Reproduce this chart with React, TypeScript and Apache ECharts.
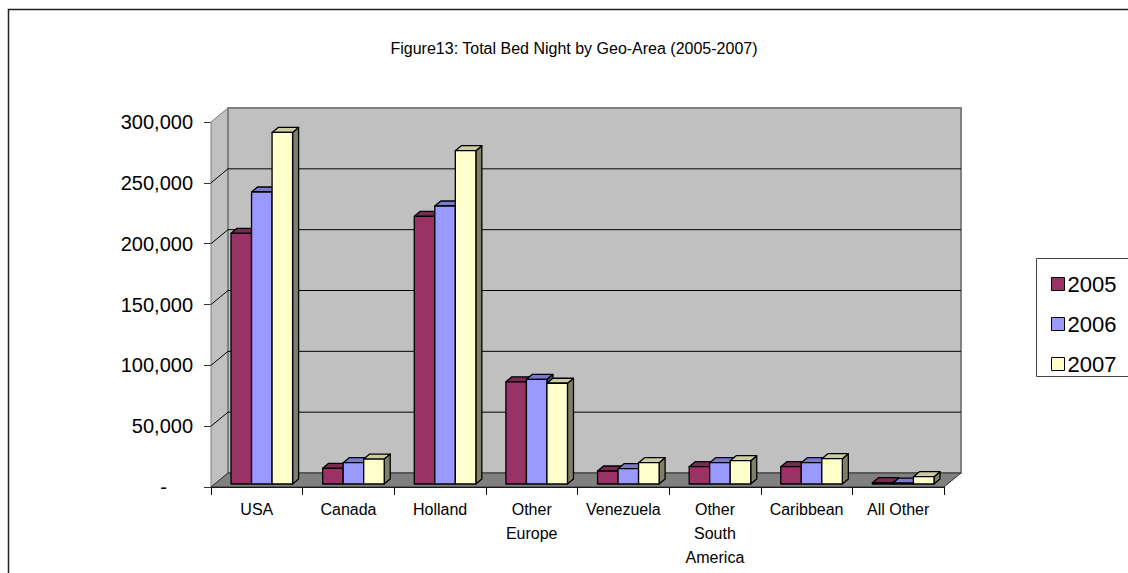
import React, { useEffect, useRef } from "react";
import * as echarts from "echarts";

const categories = ["USA", "Canada", "Holland", "Other\nEurope", "Venezuela", "Other\nSouth\nAmerica", "Caribbean", "All Other"];
const years = ["2005", "2006", "2007"];
const values2005 = [206000, 12900, 220000, 84000, 10700, 14200, 14200, 1100];
const values2006 = [240000, 17500, 228500, 86000, 12600, 17500, 17500, 800];
const values2007 = [289000, 20500, 274000, 82800, 17500, 19200, 20800, 6000];
const yTicks = [0, 50000, 100000, 150000, 200000, 250000, 300000];
const titleText = "Figure13: Total Bed Night by Geo-Area (2005-2007)";
const colors = ["#993366", "#9999FF", "#FFFFCC"];

const FONT = "'Liberation Sans', Arial, sans-serif";
const DX = 17, DY = -14; // wall depth
const BX = 5, BY = -3; // bars front plane offset
const DDX = 6, DDY = -5; // bar depth
const BAR_FRAC = 0.224;

function shade(hex: string, f: number) {
  const n = parseInt(hex.slice(1), 16);
  const r = Math.round(((n >> 16) & 255) * f);
  const g = Math.round(((n >> 8) & 255) * f);
  const b = Math.round((n & 255) * f);
  return `rgb(${r},${g},${b})`;
}

export default function App() {
  const ref = useRef<HTMLDivElement>(null);
  useEffect(() => {
    const chart = echarts.init(ref.current!, null, { renderer: "svg" });
    const seriesValues = [values2005, values2006, values2007];
    const yMax = yTicks[yTicks.length - 1];

    const wallsRender = (params: any, api: any) => {
      const cs = params.coordSys;
      const L = cs.x, R = cs.x + cs.width, T = cs.y, B = cs.y + cs.height;
      const children: any[] = [];
      children.push({
        type: "polygon",
        shape: { points: [[L, B], [L, T], [L + DX, T + DY], [L + DX, B + DY]] },
        style: { fill: "#c0c0c0", stroke: "#808080", lineWidth: 1 },
      });
      children.push({
        type: "rect",
        shape: { x: L + DX, y: T + DY, width: R - L, height: B - T },
        style: { fill: "#c0c0c0", stroke: "#808080", lineWidth: 2 },
      });
      yTicks.forEach((t) => {
        if (t === 0 || t === yMax) return;
        const y = api.coord([0, t])[1];
        children.push({
          type: "line",
          shape: { x1: L + DX, y1: y + DY, x2: R + DX, y2: y + DY },
          style: { stroke: "#000", lineWidth: 1 },
        });
        children.push({
          type: "line",
          shape: { x1: L, y1: y, x2: L + DX, y2: y + DY },
          style: { stroke: "#000", lineWidth: 1 },
        });
      });
      children.push({
        type: "polygon",
        shape: { points: [[L, B], [R, B], [R + DX, B + DY], [L + DX, B + DY]] },
        style: { fill: "#808080", stroke: "#333", lineWidth: 1 },
      });
      return { type: "group", children };
    };

    const barRender = (k: number) => (params: any, api: any) => {
      const ci = api.value(0);
      const v = api.value(1);
      const p0 = api.coord([ci, 0]);
      const p1 = api.coord([ci, v]);
      const band = api.size([1, 0])[0];
      const bw = band * BAR_FRAC;
      const x0 = p0[0] - 1.5 * bw + k * bw + BX;
      const x1 = x0 + bw;
      const yb = p0[1] + BY;
      const yt = p1[1] + BY;
      const c = colors[k];
      const st = { stroke: "#000", lineWidth: 1.3, lineJoin: "round" };
      return {
        type: "group",
        children: [
          {
            type: "polygon",
            shape: { points: [[x1, yt], [x1 + DDX, yt + DDY], [x1 + DDX, yb + DDY], [x1, yb]] },
            style: { fill: shade(c, 0.5), ...st },
          },
          {
            type: "polygon",
            shape: { points: [[x0, yt], [x1, yt], [x1 + DDX, yt + DDY], [x0 + DDX, yt + DDY]] },
            style: { fill: shade(c, 0.8), ...st },
          },
          {
            type: "rect",
            shape: { x: x0, y: yt, width: bw, height: yb - yt },
            style: { fill: c, ...st },
          },
        ],
      };
    };

    const option: any = {
      animation: false,
      backgroundColor: "#fff",
      textStyle: { fontFamily: FONT },
      grid: { left: 211, right: 184, top: 122, bottom: 86, containLabel: false },
      xAxis: {
        type: "category",
        data: categories,
        axisLine: { show: true, lineStyle: { color: "#000", width: 1 } },
        axisTick: { show: true, length: 8, interval: 0, lineStyle: { color: "#000" } },
        axisLabel: { interval: 0, fontSize: 16, lineHeight: 24, margin: 10, color: "#000", fontFamily: FONT },
        splitLine: { show: false },
      },
      yAxis: {
        type: "value",
        min: 0,
        max: yMax,
        interval: 50000,
        axisLine: { show: true, lineStyle: { color: "#333", width: 1 } },
        axisTick: { show: true, length: 7, lineStyle: { color: "#333" } },
        axisLabel: {
          fontSize: 20,
          margin: 18,
          color: "#000",
          fontFamily: FONT,
          formatter: (v: number) => (v === 0 ? "{d|-}" : v.toLocaleString("en-US")),
          rich: { d: { fontSize: 20, padding: [0, 26, 0, 0], fontFamily: FONT, color: "#000" } },
        },
        splitLine: { show: false },
      },
      legend: {
        data: years,
        orient: "vertical",
        left: 1046,
        top: 268,
        itemWidth: 13,
        itemHeight: 13,
        itemGap: 18,
        icon: "rect",
        itemStyle: { borderColor: "#000", borderWidth: 1 },
        textStyle: { fontSize: 22, color: "#000", fontFamily: FONT, padding: [0, 0, 0, -2] },
      },
      graphic: [
        {
          type: "rect",
          shape: { x: 8.5, y: 9.5, width: 1200, height: 700 },
          style: { fill: "none", stroke: "#222", lineWidth: 1.5 },
          silent: true,
          z: -10,
        },
        {
          type: "rect",
          shape: { x: 1036.5, y: 258.5, width: 200, height: 118 },
          style: { fill: "none", stroke: "#444", lineWidth: 1 },
          silent: true,
        },
        {
          type: "text",
          x: 574,
          y: 48,
          style: { text: titleText, fontSize: 16, fontFamily: FONT, fill: "#000", textAlign: "center", textVerticalAlign: "middle" },
        },
      ],
      series: [
        {
          name: "walls",
          type: "custom",
          renderItem: wallsRender,
          data: [[0, 0]],
          clip: false,
          silent: true,
          z: 1,
        },
        ...years.map((y, k) => ({
          name: y,
          type: "custom",
          renderItem: barRender(k),
          data: seriesValues[k].map((v, i) => [i, v]),
          itemStyle: { color: colors[k] },
          clip: false,
          z: 2 + k,
        })),
      ],
    };
    chart.setOption(option);
    return () => chart.dispose();
  }, []);
  return <div ref={ref} style={{ position: "fixed", left: 0, top: 0, width: 1128, height: 573, background: "#fff" }} />;
}
